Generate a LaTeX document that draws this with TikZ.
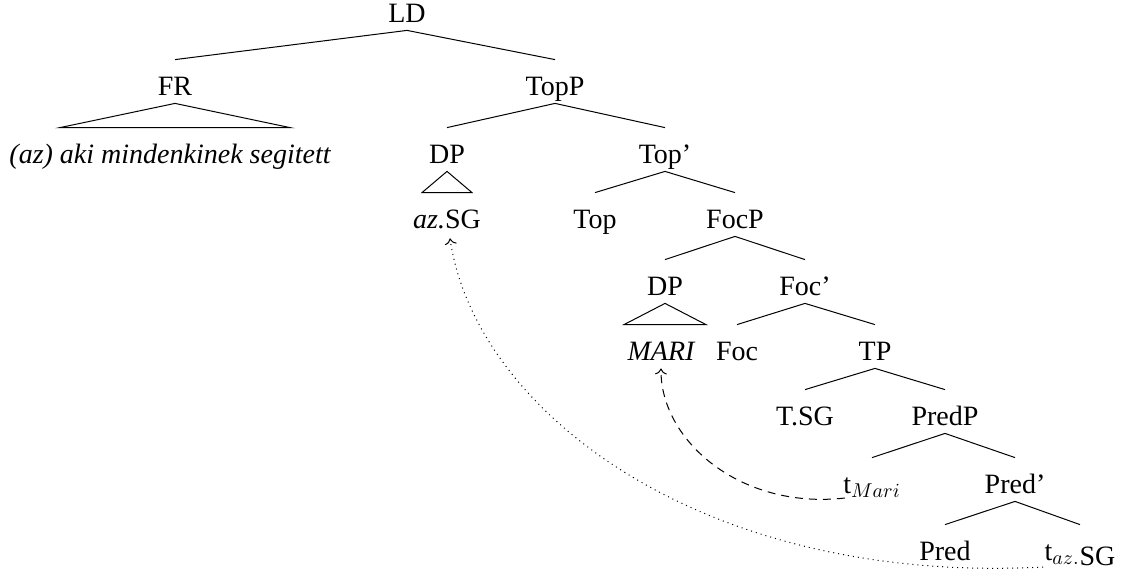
\documentclass[tikz,border=0pt]{standalone}
\usepackage{fontspec}
\setmainfont{Liberation Serif}
\usetikzlibrary{calc,arrows.meta}
\begin{document}
\begin{tikzpicture}[x=0.5pt,y=-0.5pt,
  lbl/.style={anchor=base,text height=16pt,text depth=2.5pt,inner ysep=1.5pt,inner xsep=0pt,font=\fontsize{14}{16}\selectfont},
  branch/.style={line width=0.5pt},
  movedash/.style={line width=0.5pt,dash pattern=on 4pt off 3pt,-{To[length=3pt,width=6pt]}},
  movedot/.style={line width=0.5pt,dotted,-{To[length=3pt,width=6pt]}}]
\useasboundingbox (0,0) rectangle (1129,578);
% nodes
\node[lbl] (LD) at (407,22) {LD};
\node[lbl] (FR) at (175,95) {FR};
\node[lbl] (TopP) at (555,95) {TopP};
\node[lbl] (FRtext) at (170,163) {\itshape (az) aki mindenkinek segitett};
\node[lbl] (DP) at (447,163) {DP};
\node[lbl] (Topbar) at (665,163) {Top'};
\node[lbl] (azSG) at (447,228) {\textit{az.}SG};
\node[lbl] (Top) at (595,228) {Top};
\node[lbl] (FocP) at (735,228) {FocP};
\node[lbl] (DPb) at (665,295) {DP};
\node[lbl] (Focbar) at (805,295) {Foc'};
\node[lbl] (MARI) at (661,360) {\itshape MARI};
\node[lbl] (Foc) at (737,360) {Foc};
\node[lbl] (TP) at (875,360) {TP};
\node[lbl] (TSG) at (805,425) {T.SG};
\node[lbl] (PredP) at (945,425) {PredP};
\node[lbl] (tMari) at (872,493) {t$_{Mari}$};
\node[lbl] (Predbar) at (1015,493) {Pred'};
\node[lbl] (Pred) at (945,560) {Pred};
\node[lbl] (tazSG) at (1080,560) {t$_{az.}$\raisebox{-2.5pt}{SG}};
% branches
\draw[branch] (LD.south) -- (FR.north);
\draw[branch] (LD.south) -- (TopP.north);
\draw[branch] (TopP.south) -- (DP.north);
\draw[branch] (TopP.south) -- (Topbar.north);
\draw[branch] (Topbar.south) -- (Top.north);
\draw[branch] (Topbar.south) -- (FocP.north);
\draw[branch] (FocP.south) -- (DPb.north);
\draw[branch] (FocP.south) -- (Focbar.north);
\draw[branch] (Focbar.south) -- (Foc.north);
\draw[branch] (Focbar.south) -- (TP.north);
\draw[branch] (TP.south) -- (TSG.north);
\draw[branch] (TP.south) -- (PredP.north);
\draw[branch] (PredP.south) -- (tMari.north);
\draw[branch] (PredP.south) -- (Predbar.north);
\draw[branch] (Predbar.south) -- (Pred.north);
\draw[branch] (Predbar.south) -- (tazSG.north);
% triangles
\draw[branch] (FR.south) -- ($(FR.south|-FRtext.north)+(-115,0)$) -- ($(FR.south|-FRtext.north)+(115,0)$) -- cycle;
\draw[branch] (DP.south) -- ($(DP.south|-azSG.north)+(-25,0)$) -- ($(DP.south|-azSG.north)+(25,0)$) -- cycle;
\draw[branch] (DPb.south) -- ($(DPb.south|-MARI.north)+(-41,0)$) -- ($(DPb.south|-MARI.north)+(41,0)$) -- cycle;
% movement arrows
\draw[movedash] ($(tMari.base west)+(2,5)$) .. controls (740,510) and (660,440) .. (MARI.south);
\draw[movedot] ($(tazSG.base west)+(-1,7)$) .. controls (700,585) and (475,410) .. ($(azSG.south)+(3,2)$);
\end{tikzpicture}
\end{document}
